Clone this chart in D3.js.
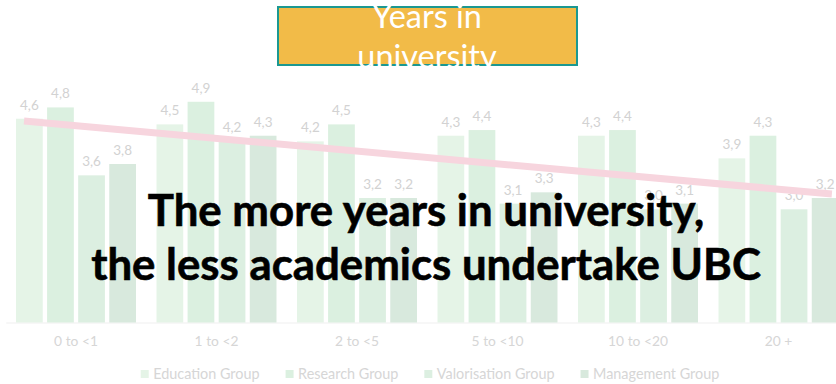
<!DOCTYPE html>
<html><head><meta charset="utf-8">
<script src="https://cdn.jsdelivr.net/npm/d3@7"></script>
<style>body{margin:0;background:#fff} svg{display:block}</style>
</head><body><svg id="c" width="836" height="384"></svg>
<script>
const categories = ["0 to <1","1 to <2","2 to <5","5 to <10","10 to <20","20 +"];
const seriesNames = ["Education Group","Research Group","Valorisation Group","Management Group"];
const education = [4.6,4.5,4.2,4.3,4.3,3.9];
const research = [4.8,4.9,4.5,4.4,4.4,4.3];
const valorisation = [3.6,4.2,3.2,3.1,3.0,3.0];
const management = [3.8,4.3,3.2,3.3,3.1,3.2];
const seriesColors = ["#e5f4e7","#dbf0e0","#dcefe1","#d8e9dd"];
const trendPos = [-0.37, 5.38];
const trendValues = [4.56, 3.27];
const yDomain = [1, 6];
const titleLines = ["Years in","university"];
const messageLines = ["The more years in university,","the less academics undertake UBC"];

const series = [education, research, valorisation, management];
const svg = d3.select("#c");
const FONT = "Lato, 'Open Sans', sans-serif";

const x0 = d3.scaleBand().domain(categories).range([5.75, 848.75]).paddingInner(0.146).paddingOuter(0.073);
const x1 = d3.scaleBand().domain(d3.range(series.length)).range([0, x0.bandwidth()]).paddingInner(0.14);
const y = d3.scaleLinear().domain(yDomain).range([322.5, 39.5]);
const xi = d3.scaleLinear().domain([0, categories.length-1])
  .range([x0(categories[0]) + x0.bandwidth()/2, x0(categories[categories.length-1]) + x0.bandwidth()/2]);

// axis
const axis = svg.append("g").attr("transform", `translate(0,${y(yDomain[0])})`)
  .call(d3.axisBottom(x0).tickSize(0).tickPadding(13.7));
axis.select(".domain").attr("stroke", "#efefef").attr("stroke-width", 1.2);
axis.selectAll("text").attr("fill", "#d6d6d6").attr("font-family", FONT).attr("font-size", 13.8);

// bars
const data = [];
categories.forEach((c, ci) => series.forEach((s, si) => data.push({c, si, v: s[ci]})));
const g = svg.append("g");
g.selectAll("rect").data(data).join("rect")
  .attr("x", d => x0(d.c) + x1(d.si))
  .attr("width", x1.bandwidth())
  .attr("y", d => y(d.v))
  .attr("height", d => y(yDomain[0]) - y(d.v))
  .attr("fill", d => seriesColors[d.si]);
g.selectAll("text").data(data).join("text")
  .attr("x", d => x0(d.c) + x1(d.si) + x1.bandwidth()/2)
  .attr("y", d => y(d.v) - 9)
  .attr("text-anchor", "middle")
  .attr("font-family", FONT).attr("font-size", 13.5)
  .attr("fill", "#d2d2d2")
  .text(d => d3.format(".1f")(d.v).replace(".", ","));

// trend line
svg.append("path")
  .datum(trendPos.map((p, i) => [p, trendValues[i]]))
  .attr("d", d3.line().x(d => xi(d[0])).y(d => y(d[1])))
  .attr("stroke", "#f7d5de").attr("stroke-width", 7).attr("fill", "none");

// legend
const lg = svg.append("g");
let lx = 0;
seriesNames.forEach((n, i) => {
  const it = lg.append("g").attr("transform", `translate(${lx},0)`);
  it.append("rect").attr("x", 0).attr("y", -9).attr("width", 8).attr("height", 8).attr("fill", seriesColors[i]);
  const t = it.append("text").attr("x", 12.5).attr("y", 0).attr("font-family", FONT).attr("font-size", 14.4)
    .attr("fill", "#d6d6d6").text(n);
  lx += 12.5 + t.node().getComputedTextLength() + 26;
});
const lw = lx - 26;
lg.attr("transform", `translate(${430 - lw/2},379)`);

// message
const mg = svg.append("g");
const mtexts = messageLines.map((l, i) => mg.append("text")
  .attr("x", 426).attr("y", 226 + i*54).attr("text-anchor", "middle")
  .attr("font-family", FONT).attr("font-weight", 700).attr("font-size", 40)
  .attr("fill", "#000").attr("stroke", "#000").attr("stroke-width", 0.6).text(l));
const w2 = mtexts[1].node().getComputedTextLength();
const fs = 40 * 670 / w2;
mtexts.forEach(t => t.attr("font-size", fs));

// title box
const defs = svg.append("defs");
defs.append("clipPath").attr("id", "tclip").append("rect").attr("x", 278).attr("y", 0).attr("width", 299).attr("height", 67);
svg.append("rect").attr("x", 278).attr("y", 7).attr("width", 299).attr("height", 58)
  .attr("fill", "#f2bb48").attr("stroke", "#1b9891").attr("stroke-width", 2);
const tg = svg.append("g").attr("clip-path", "url(#tclip)");
const ttexts = titleLines.map((l, i) => tg.append("text")
  .attr("x", 427).attr("y", 28 + i*40).attr("text-anchor", "middle")
  .attr("font-family", FONT).attr("font-size", 28).attr("fill", "#fff").text(l));
const tw = ttexts[0].node().getComputedTextLength();
const tfs = 28 * 110 / tw;
ttexts.forEach(t => t.attr("font-size", tfs));
</script></body></html>
